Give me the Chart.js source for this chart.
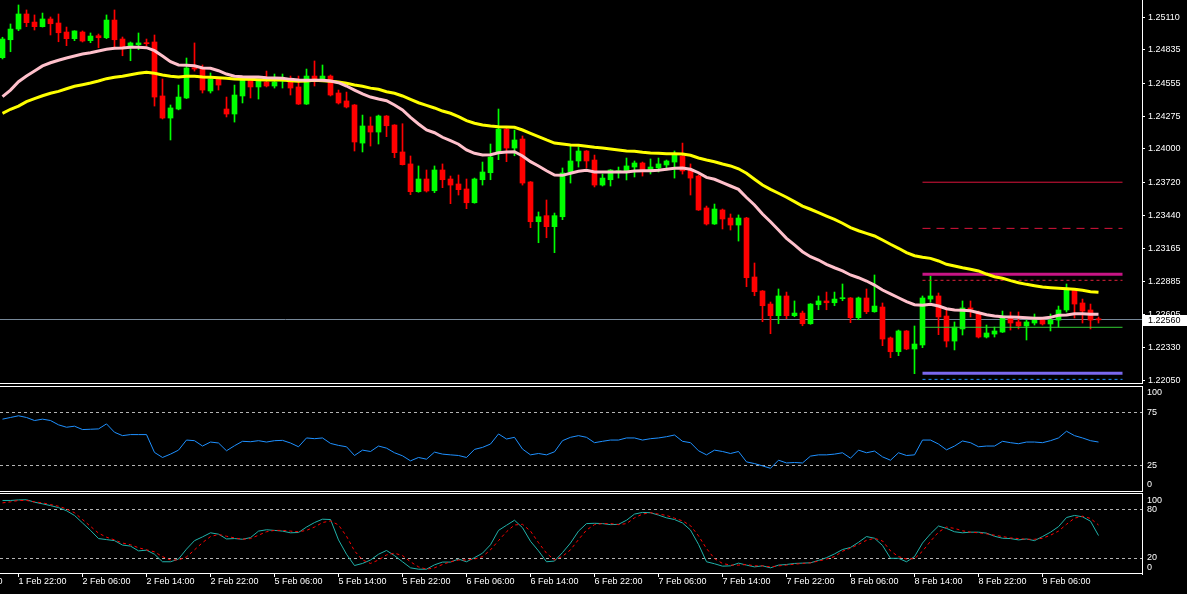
<!DOCTYPE html>
<html><head><meta charset="utf-8">
<script src="https://cdn.jsdelivr.net/npm/chart.js@4.4.1/dist/chart.umd.min.js"></script>
<style>
html,body{margin:0;padding:0;background:#000;}
#wrap{position:relative;width:1187px;height:594px;background:#000;overflow:hidden;}
canvas{position:absolute;left:0;}
</style></head><body>
<div id="wrap">
<canvas id="cMain" width="1187" height="384" style="top:0px"></canvas>
<canvas id="cRsi" width="1187" height="108" style="top:385px"></canvas>
<canvas id="cSto" width="1187" height="101" style="top:493px"></canvas>
</div>
<script>
// ---------- DATA ----------
const candleOpen = [1.24770,1.24921,1.25011,1.25138,1.25070,1.25031,1.25096,1.25062,1.24986,1.24930,
 1.24986,1.24913,1.24955,1.24938,1.25087,1.24927,1.24871,1.24879,1.24894,1.24902,
 1.24447,1.24261,1.24337,1.24430,1.24685,1.24674,1.24489,1.24590,1.24337,1.24295,
 1.24447,1.24582,1.24523,1.24565,1.24531,1.24573,1.24573,1.24523,1.24379,1.24615,
 1.24582,1.24615,1.24472,1.24405,1.24371,1.24050,1.24194,1.24143,1.24278,1.24202,
 1.23975,1.23874,1.23640,1.23747,1.23648,1.23823,1.23747,1.23705,1.23663,1.23547,
 1.23741,1.23800,1.23975,1.24168,1.24008,1.24084,1.23722,1.23387,1.23438,1.23345,
 1.23429,1.23806,1.23899,1.23983,1.23907,1.23696,1.23741,1.23800,1.23806,1.23848,
 1.23882,1.23823,1.23840,1.23865,1.23890,1.23941,1.23823,1.23772,1.23503,1.23368,
 1.23486,1.23418,1.23359,1.23418,1.22921,1.22803,1.22693,1.22595,1.22761,1.22595,
 1.22617,1.22527,1.22687,1.22719,1.22704,1.22738,1.22744,1.22578,1.22744,1.22628,
 1.22668,1.22407,1.22291,1.22466,1.22314,1.22348,1.22735,1.22761,1.22592,1.22381,
 1.22483,1.22660,1.22617,1.22415,1.22440,1.22457,1.22575,1.22542,1.22508,1.22533,
 1.22558,1.22525,1.22558,1.22643,1.22811,1.22702,1.22643,1.22565];
const candleHigh = [1.24942,1.25054,1.25214,1.25172,1.25130,1.25146,1.25113,1.25138,1.25028,1.24997,
 1.24995,1.24978,1.24969,1.25130,1.25172,1.24944,1.24902,1.24978,1.24927,1.24961,
 1.24590,1.24371,1.24539,1.24767,1.24894,1.24708,1.24641,1.24598,1.24438,1.24539,
 1.24590,1.24590,1.24590,1.24657,1.24632,1.24632,1.24615,1.24615,1.24674,1.24742,
 1.24708,1.24624,1.24497,1.24480,1.24375,1.24286,1.24270,1.24286,1.24282,1.24205,
 1.24213,1.23941,1.23857,1.23823,1.23857,1.23874,1.23772,1.23781,1.23747,1.23755,
 1.23890,1.24042,1.24337,1.24185,1.24160,1.24110,1.23726,1.23469,1.23570,1.23460,
 1.23840,1.24025,1.24017,1.23987,1.23949,1.23789,1.23827,1.23848,1.23924,1.23899,
 1.23890,1.23916,1.23924,1.23907,1.23983,1.24050,1.23874,1.23781,1.23519,1.23536,
 1.23494,1.23452,1.23444,1.23424,1.23039,1.22807,1.22710,1.22820,1.22794,1.22719,
 1.22634,1.22697,1.22761,1.22794,1.22794,1.22862,1.22748,1.22752,1.22820,1.22938,
 1.22702,1.22415,1.22474,1.22470,1.22508,1.22761,1.22929,1.22786,1.22643,1.22542,
 1.22719,1.22719,1.22634,1.22516,1.22499,1.22634,1.22626,1.22626,1.22558,1.22609,
 1.22567,1.22609,1.22676,1.22862,1.22820,1.22735,1.22693,1.22584];
const candleLow = [1.24759,1.24820,1.24997,1.25031,1.25003,1.25028,1.24961,1.24904,1.24871,1.24913,
 1.24902,1.24896,1.24854,1.24930,1.24862,1.24786,1.24744,1.24837,1.24871,1.24362,
 1.24253,1.24076,1.24330,1.24425,1.24657,1.24472,1.24472,1.24497,1.24270,1.24227,
 1.24388,1.24430,1.24421,1.24523,1.24514,1.24514,1.24455,1.24375,1.24375,1.24531,
 1.24578,1.24447,1.24379,1.24346,1.23983,1.23975,1.24025,1.24042,1.24104,1.23927,
 1.23865,1.23615,1.23635,1.23637,1.23632,1.23674,1.23539,1.23612,1.23497,1.23543,
 1.23696,1.23741,1.23910,1.23893,1.23943,1.23696,1.23337,1.23210,1.23252,1.23126,
 1.23404,1.23713,1.23848,1.23840,1.23680,1.23688,1.23688,1.23755,1.23739,1.23764,
 1.23772,1.23789,1.23806,1.23823,1.23755,1.23789,1.23612,1.23482,1.23359,1.23364,
 1.23326,1.23317,1.23224,1.22839,1.22763,1.22544,1.22443,1.22527,1.22569,1.22586,
 1.22510,1.22522,1.22645,1.22645,1.22679,1.22721,1.22536,1.22561,1.22612,1.22624,
 1.22342,1.22241,1.22258,1.22308,1.22106,1.22325,1.22710,1.22435,1.22331,1.22306,
 1.22432,1.22584,1.22407,1.22407,1.22415,1.22453,1.22474,1.22483,1.22390,1.22516,
 1.22516,1.22466,1.22499,1.22626,1.22575,1.22533,1.22483,1.22533];
const candleClose = [1.24927,1.25011,1.25138,1.25065,1.25031,1.25096,1.25056,1.24980,1.24930,1.24995,
 1.24910,1.24952,1.24938,1.25087,1.24921,1.24862,1.24894,1.24894,1.24888,1.24438,
 1.24261,1.24346,1.24438,1.24683,1.24674,1.24497,1.24590,1.24539,1.24295,1.24455,
 1.24582,1.24523,1.24582,1.24531,1.24565,1.24590,1.24514,1.24379,1.24615,1.24582,
 1.24615,1.24455,1.24388,1.24354,1.24059,1.24194,1.24143,1.24278,1.24196,1.23969,
 1.23868,1.23640,1.23747,1.23646,1.23823,1.23741,1.23696,1.23657,1.23547,1.23747,
 1.23806,1.23932,1.24168,1.24008,1.24076,1.23713,1.23387,1.23429,1.23345,1.23438,
 1.23798,1.23899,1.23983,1.23899,1.23696,1.23755,1.23823,1.23817,1.23857,1.23882,
 1.23823,1.23848,1.23874,1.23899,1.23949,1.23815,1.23755,1.23486,1.23368,1.23494,
 1.23410,1.23359,1.23418,1.22915,1.22797,1.22679,1.22595,1.22761,1.22595,1.22617,
 1.22527,1.22693,1.22719,1.22704,1.22735,1.22746,1.22578,1.22744,1.22628,1.22676,
 1.22398,1.22291,1.22466,1.22314,1.22356,1.22744,1.22761,1.22584,1.22381,1.22499,
 1.22660,1.22649,1.22415,1.22449,1.22466,1.22592,1.22533,1.22508,1.22542,1.22558,
 1.22525,1.22558,1.22643,1.22828,1.22693,1.22634,1.22558,1.22560];

const maFast = [1.24441,1.24497,1.24567,1.24615,1.24657,1.24700,1.24727,1.24748,1.24767,1.24784,
 1.24801,1.24812,1.24826,1.24840,1.24849,1.24851,1.24857,1.24857,1.24854,1.24829,
 1.24784,1.24736,1.24708,1.24705,1.24702,1.24683,1.24680,1.24660,1.24632,1.24613,
 1.24609,1.24607,1.24607,1.24601,1.24598,1.24596,1.24587,1.24582,1.24579,1.24579,
 1.24579,1.24573,1.24559,1.24531,1.24497,1.24464,1.24438,1.24421,1.24407,1.24371,
 1.24329,1.24267,1.24211,1.24160,1.24137,1.24099,1.24070,1.24040,1.23992,1.23964,
 1.23949,1.23952,1.23969,1.23975,1.23977,1.23941,1.23893,1.23857,1.23817,1.23781,
 1.23778,1.23795,1.23812,1.23820,1.23806,1.23806,1.23806,1.23806,1.23806,1.23815,
 1.23817,1.23817,1.23820,1.23829,1.23837,1.23840,1.23829,1.23800,1.23761,1.23745,
 1.23716,1.23688,1.23660,1.23591,1.23528,1.23452,1.23387,1.23317,1.23247,1.23191,
 1.23134,1.23092,1.23064,1.23028,1.22999,1.22972,1.22938,1.22915,1.22887,1.22853,
 1.22811,1.22778,1.22746,1.22713,1.22687,1.22682,1.22691,1.22676,1.22654,1.22643,
 1.22640,1.22637,1.22620,1.22603,1.22592,1.22586,1.22584,1.22581,1.22578,1.22573,
 1.22573,1.22581,1.22598,1.22600,1.22612,1.22612,1.22607,1.22607];
const maSlow = [1.24301,1.24335,1.24362,1.24399,1.24424,1.24449,1.24470,1.24486,1.24508,1.24529,
 1.24542,1.24556,1.24573,1.24593,1.24604,1.24613,1.24626,1.24638,1.24647,1.24638,
 1.24624,1.24613,1.24607,1.24613,1.24613,1.24607,1.24604,1.24601,1.24596,1.24590,
 1.24587,1.24587,1.24584,1.24582,1.24582,1.24582,1.24576,1.24571,1.24573,1.24579,
 1.24576,1.24571,1.24565,1.24554,1.24539,1.24529,1.24513,1.24503,1.24483,1.24470,
 1.24447,1.24419,1.24390,1.24368,1.24346,1.24320,1.24301,1.24272,1.24239,1.24217,
 1.24202,1.24194,1.24188,1.24185,1.24183,1.24160,1.24132,1.24104,1.24076,1.24050,
 1.24042,1.24034,1.24031,1.24023,1.24014,1.24008,1.24000,1.23992,1.23983,1.23981,
 1.23972,1.23966,1.23964,1.23960,1.23960,1.23958,1.23947,1.23924,1.23907,1.23893,
 1.23874,1.23857,1.23833,1.23795,1.23745,1.23696,1.23660,1.23627,1.23593,1.23556,
 1.23519,1.23492,1.23463,1.23435,1.23407,1.23374,1.23337,1.23311,1.23289,1.23267,
 1.23233,1.23197,1.23163,1.23126,1.23100,1.23087,1.23078,1.23056,1.23028,1.23014,
 1.22999,1.22986,1.22972,1.22946,1.22923,1.22910,1.22890,1.22873,1.22859,1.22848,
 1.22837,1.22831,1.22826,1.22822,1.22817,1.22809,1.22797,1.22792];

const rsiValues = [68.9,70.5,72.1,70.5,67.6,68.9,67.6,63.5,61.2,62.2,
 59.0,59.3,59.6,64.4,56.4,53.2,54.2,54.2,54.2,37.2,
 32.4,35.6,39.4,49.0,48.4,43.3,47.1,46.2,38.8,43.6,
 47.8,47.4,48.4,47.1,48.4,48.7,46.2,42.6,51.0,50.3,
 51.0,45.8,43.9,42.6,34.3,39.4,38.1,43.3,41.3,36.9,
 34.0,29.2,32.4,30.8,37.5,35.6,34.9,34.3,32.4,40.1,
 42.0,45.2,54.8,50.0,51.6,40.4,34.9,36.2,34.9,37.8,
 48.4,51.6,53.2,51.6,46.5,47.8,49.0,49.0,51.0,51.0,
 49.0,50.3,51.0,52.2,53.8,47.8,46.5,38.8,34.9,39.4,
 38.1,36.2,38.1,28.2,26.6,24.4,22.1,29.8,27.2,27.6,
 27.2,33.7,34.9,34.9,35.6,36.9,31.7,39.4,36.9,38.5,
 33.0,29.8,36.9,34.3,34.9,49.0,49.0,45.2,39.7,43.3,
 48.1,46.5,42.6,43.3,43.3,47.8,46.5,45.5,47.1,47.1,
 46.5,48.4,51.0,57.4,53.2,51.0,48.4,47.1];

const stochMain = [91.9,91.9,92.6,92.8,89.8,87.7,85.5,83.0,79.1,73.2,
 63.8,54.5,44.3,43.0,41.7,36.2,34.9,28.9,29.8,24.7,
 15.3,15.3,18.7,31.1,41.7,46.4,51.5,49.8,43.8,44.3,
 43.4,45.5,53.6,55.3,54.5,53.6,51.5,51.9,58.7,64.3,
 68.5,68.1,42.6,24.7,10.6,13.2,17.5,24.7,29.4,23.0,
 15.3,7.7,6.0,6.0,11.5,14.9,14.9,18.7,15.3,20.4,
 26.0,36.6,54.5,60.9,67.2,57.9,40.9,28.9,15.3,16.2,
 26.8,38.7,53.6,63.0,63.4,63.0,61.7,62.1,67.2,74.9,
 77.0,76.6,73.6,70.2,68.1,63.8,54.9,37.0,15.3,12.8,
 9.8,10.2,13.6,11.1,8.9,10.2,7.7,11.1,11.9,13.2,
 13.6,14.0,17.0,20.4,25.1,30.6,33.2,39.6,46.8,44.7,
 35.7,19.6,19.6,15.3,21.7,38.7,50.2,60.0,57.0,52.8,
 51.5,52.3,52.3,51.1,47.2,44.7,44.3,42.6,43.8,41.7,
 46.8,52.3,59.2,70.6,73.2,71.5,66.0,48.1];
const stochSignal = [88.9,90.2,91.9,91.9,90.2,88.9,86.8,84.7,81.3,76.6,
 68.1,59.6,51.1,46.0,42.6,38.7,36.6,32.8,30.2,27.7,
 21.7,17.5,17.5,21.3,30.2,39.2,46.8,49.4,47.2,45.1,
 43.4,44.3,48.5,52.8,54.5,54.5,53.6,52.8,54.5,58.7,
 64.3,66.4,61.3,47.2,28.9,17.5,13.2,17.5,23.8,26.0,
 23.0,15.3,8.9,6.0,7.7,11.9,15.3,17.5,17.5,18.7,
 21.7,30.2,41.7,52.8,61.3,62.1,53.6,39.2,26.0,17.5,
 22.1,30.2,43.0,54.9,61.7,63.0,63.0,61.7,63.0,70.2,
 74.9,76.6,74.9,73.2,69.8,66.4,60.4,47.7,31.9,19.2,
 13.2,11.1,11.1,11.9,10.2,10.2,8.9,10.2,11.1,12.3,
 13.2,14.0,16.2,18.7,21.7,28.5,32.3,37.0,42.1,44.7,
 41.3,28.9,21.7,18.7,19.2,28.5,40.9,52.3,58.7,57.0,
 54.0,52.3,51.5,50.2,48.5,46.8,45.1,44.3,43.4,43.4,
 44.7,48.5,53.6,62.1,69.8,72.3,69.4,61.3];

const priceTicks = [1.25110,1.24835,1.24555,1.24275,1.24000,1.23720,1.23440,1.23165,1.22885,1.22605,1.22330,1.22050];
const timeLabelBars = [-6,2,10,18,26,34,42,50,58,66,74,82,90,98,106,114,122,130];
const timeLabels = ['1 Feb 14:00','1 Feb 22:00','2 Feb 06:00','2 Feb 14:00','2 Feb 22:00','5 Feb 06:00','5 Feb 14:00','5 Feb 22:00','6 Feb 06:00','6 Feb 14:00','6 Feb 22:00','7 Feb 06:00','7 Feb 14:00','7 Feb 22:00','8 Feb 06:00','8 Feb 14:00','8 Feb 22:00','9 Feb 06:00'];
const rsiTickPos = [94, 75, 25, 6.5];
const rsiTickLabels = ['100','75','25','0'];
const rsiLevels = [75, 25];
const stoTickPos = [92.3, 80, 20, 8.3];
const stoTickLabels = ['100','80','20','0'];
const stoLevels = [80, 20];
const bidPrice = 1.22560;
const levelPrices = [1.23720, 1.23331, 1.22944, 1.22893, 1.22497, 1.22109, 1.22058];
const levelStartBar = 115, levelEndBar = 140;

// ---------- STYLES / LAYOUT ----------
const levelStyles = [
  {c:'#DC143C', w:1, d:[]},
  {c:'#DC143C', w:1, d:[8,6]},
  {c:'#C71585', w:3, d:[]},
  {c:'#E0203C', w:1, d:[3,3]},
  {c:'#32CD32', w:1, d:[]},
  {c:'#7B68EE', w:3, d:[]},
  {c:'#1E90FF', w:1, d:[3,3]}
];
const BULL = '#00FF00', BEAR = '#FF0000';
const X_MIN = -0.3125, X_MAX = 142.4375, AXIS_W = 45;

Chart.defaults.font.family = "'Liberation Sans', Arial, sans-serif";
Chart.defaults.font.size = 9;
Chart.defaults.color = '#ffffff';

const barIndex = candleOpen.map((_, i) => i);
const candleColors = barIndex.map(i => candleClose[i] >= candleOpen[i] ? BULL : BEAR);
const series = arr => arr.map((v, i) => ({x: i, y: v}));

function hiddenX(){
  return {type:'linear', min:X_MIN, max:X_MAX, offset:false, display:false, grid:{offset:false}};
}
function rightY(min, max, tickVals, labelFn, tickColor, pad){
  return {
    type:'linear', position:'right', min:min, max:max,
    grid:{drawOnChartArea:false, drawTicks:true, tickLength:3, tickColor:tickColor, color:'#fff'},
    border:{display:true, color:'#fff', width:1},
    ticks:{color:'#fff', padding:pad, autoSkip:false, callback:labelFn, font:{size:9}},
    afterBuildTicks(s){ s.ticks = tickVals.map(v => ({value:v})); },
    afterFit(s){ s.width = AXIS_W; s.paddingTop = 0; s.paddingBottom = 0; }
  };
}
function levelPlugin(levels){
  return {
    id:'lv',
    beforeDatasetsDraw(chart){
      const {ctx, chartArea:a, scales:{y}} = chart;
      ctx.save();
      ctx.strokeStyle = '#B4B4B4'; ctx.lineWidth = 1; ctx.setLineDash([3,3]);
      levels.forEach(v => {
        const py = Math.floor(y.getPixelForValue(v)) + 0.5;
        ctx.beginPath(); ctx.moveTo(a.left, py); ctx.lineTo(a.right, py); ctx.stroke();
      });
      ctx.restore();
    }
  };
}
function framePlugin(rows){
  return {
    id:'fr',
    afterDraw(chart){
      const {ctx, chartArea:a} = chart;
      ctx.save(); ctx.fillStyle = '#fff';
      rows.forEach(r => ctx.fillRect(0, r, a.right + 1, 1));
      ctx.restore();
    }
  };
}
const commonOpts = {responsive:false, devicePixelRatio:1, animation:false, events:[],
  plugins:{legend:{display:false}, tooltip:{enabled:false}}};

// ---------- MAIN PRICE CHART ----------
const mainDecor = {
  id:'mainDecor',
  beforeDatasetsDraw(chart){
    const {ctx, chartArea:a, scales:{y}} = chart;
    const py = Math.floor(y.getPixelForValue(bidPrice)) + 0.5;
    ctx.save(); ctx.strokeStyle = '#778899'; ctx.lineWidth = 1;
    ctx.beginPath(); ctx.moveTo(a.left, py); ctx.lineTo(a.right, py); ctx.stroke();
    ctx.restore();
  },
  afterDraw(chart){
    const {ctx, chartArea:a, scales:{y}} = chart;
    ctx.save();
    ctx.fillStyle = '#fff';
    ctx.fillRect(0, 383, a.right + 1, 1);
    const py = Math.round(y.getPixelForValue(bidPrice));
    ctx.fillRect(a.right + 1, py - 5, chart.width - a.right - 1, 11);
    ctx.fillStyle = '#000';
    ctx.font = "9px 'Liberation Sans', Arial, sans-serif";
    ctx.textBaseline = 'middle'; ctx.textAlign = 'left';
    ctx.fillText(bidPrice.toFixed(5), a.right + 6, py + 0.5);
    ctx.restore();
  }
};

const levelDatasets = levelPrices.map((p, j) => ({
  type:'line', data:[{x:levelStartBar, y:p}, {x:levelEndBar, y:p}],
  borderColor:levelStyles[j].c, borderWidth:levelStyles[j].w, borderDash:levelStyles[j].d,
  pointRadius:0, order:3
}));

new Chart(document.getElementById('cMain'), {
  type:'bar',
  data:{datasets:[
    {type:'bar', data:barIndex.map(i => ({x:i, y:[candleLow[i], candleHigh[i]]})),
     backgroundColor:candleColors, barThickness:1, grouped:false, borderWidth:0, order:6},
    {type:'bar', data:barIndex.map(i => ({x:i, y:[candleOpen[i], candleClose[i]]})),
     backgroundColor:candleColors, barThickness:5, minBarLength:1, grouped:false, borderWidth:0, order:5},
    ...levelDatasets,
    {type:'line', data:series(maSlow), borderColor:'#FFFF00', borderWidth:3, pointRadius:0, tension:0, order:2},
    {type:'line', data:series(maFast), borderColor:'#FFC0CB', borderWidth:3, pointRadius:0, tension:0, order:1}
  ]},
  options:Object.assign({}, commonOpts, {
    layout:{padding:0},
    scales:{
      x:hiddenX(),
      y:rightY(1.22019, 1.25256, priceTicks, v => Number(v).toFixed(5), '#fff', 3)
    }
  }),
  plugins:[mainDecor]
});

// ---------- RSI ----------
new Chart(document.getElementById('cRsi'), {
  type:'line',
  data:{datasets:[{data:series(rsiValues), borderColor:'#1E90FF', borderWidth:1, pointRadius:0, tension:0}]},
  options:Object.assign({}, commonOpts, {
    layout:{padding:{top:1.5, bottom:1.5, left:0, right:0}},
    scales:{
      x:hiddenX(),
      y:rightY(0, 100, rsiTickPos, (v, i) => rsiTickLabels[i], 'rgba(0,0,0,0)', 2)
    }
  }),
  plugins:[levelPlugin(rsiLevels), framePlugin([1, 106])]
});

// ---------- STOCHASTIC ----------
new Chart(document.getElementById('cSto'), {
  type:'line',
  data:{datasets:[
    {data:series(stochSignal), borderColor:'#FF0000', borderWidth:1, borderDash:[3,3], pointRadius:0, tension:0, order:0},
    {data:series(stochMain), borderColor:'#20B2AA', borderWidth:1, pointRadius:0, tension:0, order:1}
  ]},
  options:Object.assign({}, commonOpts, {
    layout:{padding:{top:1, bottom:0, left:0, right:0}},
    scales:{
      x:{type:'linear', min:X_MIN, max:X_MAX, offset:false, position:'bottom',
         grid:{display:true, drawOnChartArea:false, drawTicks:true, tickLength:3, tickColor:'#fff', offset:false},
         border:{display:false},
         ticks:{color:'#fff', align:'start', maxRotation:0, minRotation:0, autoSkip:false, padding:0,
                font:{size:9, lineHeight:1}, callback:(v, i) => timeLabels[i]},
         afterBuildTicks(s){ s.ticks = timeLabelBars.map(v => ({value:v})); },
         afterFit(s){ s.height = 20; s.paddingLeft = 0; s.paddingRight = 0; }
      },
      y:rightY(0, 100, stoTickPos, (v, i) => stoTickLabels[i], 'rgba(0,0,0,0)', 2)
    }
  }),
  plugins:[levelPlugin(stoLevels), framePlugin([0, 80])]
});
</script>
</body></html>
